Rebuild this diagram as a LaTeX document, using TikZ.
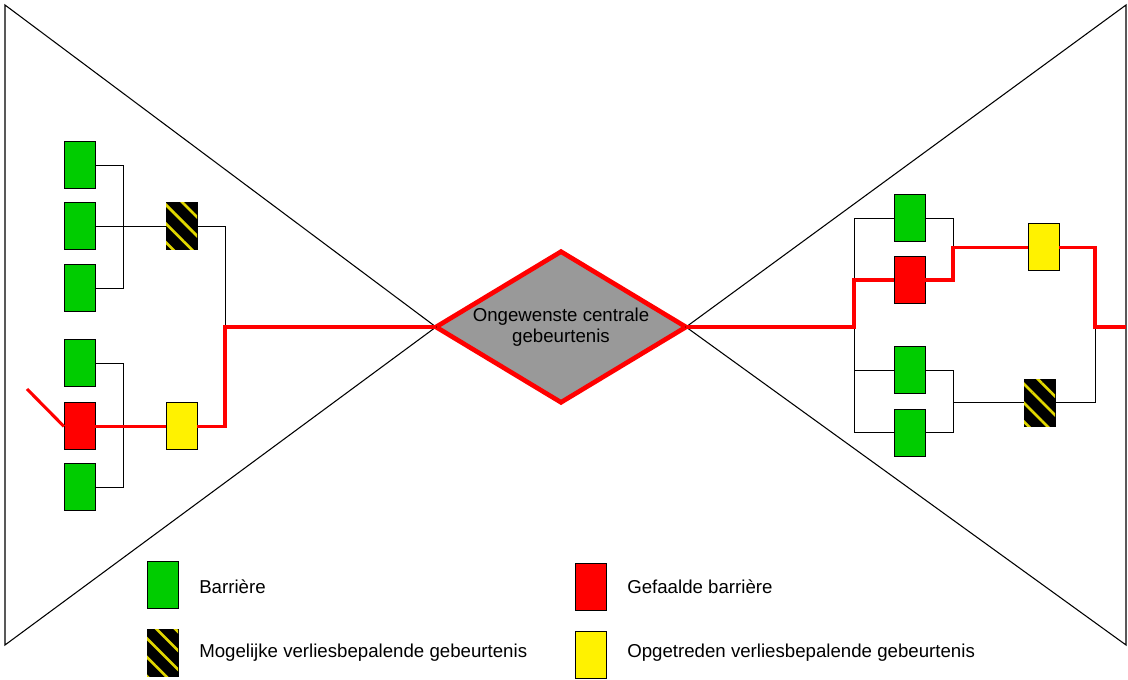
\documentclass[tikz,border=0pt]{standalone}
\usepackage{fontspec}
\setmainfont{Liberation Sans}
\usetikzlibrary{shapes.geometric,patterns.meta}
\definecolor{barrgreen}{RGB}{0,204,0}
\definecolor{stripeyellow}{RGB}{225,215,0}
\definecolor{centergray}{RGB}{153,153,153}

\begin{document}
\begin{tikzpicture}[x=0.75pt, y=-0.75pt,
    box/.style={draw, line width=0.75pt, minimum width=23.25pt, minimum height=35.25pt, inner sep=0pt, outer sep=0pt},
    barrier/.style={box, fill=barrgreen},
    failed/.style={box, fill=red},
    occurred/.style={box, fill=yellow},
    possible/.style={box, fill=black, postaction={pattern={Lines[angle=-45, distance=10pt, line width=2pt]}, pattern color=stripeyellow}},
    link/.style={line width=0.75pt},
    redline/.style={draw=red, line width=2.3pt},
    lbl/.style={font=\fontsize{14}{16}\selectfont, align=center}
  ]
    \useasboundingbox (0,0) rectangle (1128,680);

    % central event
    \node[diamond, shape aspect=1.656, draw=red, line width=3.5pt, fill=centergray, minimum width=187.5pt, minimum height=113pt,
          inner sep=0pt, outer sep=0pt, lbl] (ceg) at (561,327) {Ongewenste centrale\\gebeurtenis};

    % bowtie
    \draw[line width=0.8pt] (5,5) -- (ceg.west) -- (5,645) -- cycle;
    \draw[line width=0.8pt] (1126,5) -- (ceg.east) -- (1126,645) -- cycle;

    % left side
    \node[barrier]  (L1) at (79.5,165.5) {};
    \node[barrier]  (L2) at (79.5,226.5) {};
    \node[barrier]  (L3) at (79.5,288.5) {};
    \node[barrier]  (L4) at (79.5,363.5) {};
    \node[failed]   (L5) at (79.5,426.5) {};
    \node[barrier]  (L6) at (79.5,487.5) {};
    \node[possible] (LH) at (181.5,226.5) {};
    \node[occurred] (LY) at (181.5,426.5) {};

    \coordinate (ja) at (123,165.5);
    \coordinate (jb) at (123,288.5);
    \coordinate (jd) at (123,363.5);
    \coordinate (je) at (123,487.5);
    \coordinate (jc) at (225,327);
    \coordinate (cause) at (27,389);

    \draw[link] (L1.east) -- (ja) -- (jb) -- (L3.east);
    \draw[link] (L2.east) -- (LH.west);
    \draw[link] (LH.east) -| (jc);
    \draw[link] (L4.east) -- (jd) -- (je) -- (L6.east);
    \draw[link] (L5.east) -- (LY.west);
    \draw[redline] (cause) -- (L5.west);
    \draw[redline] (L5.east) -- (LY.west);
    \draw[redline] (LY.east) -| (jc) -- (ceg.west);

    % right side
    \node[barrier]  (R1) at (909.5,218.5) {};
    \node[failed]   (R2) at (909.5,280) {};
    \node[barrier]  (R3) at (909.5,370.5) {};
    \node[barrier]  (R4) at (909.5,433) {};
    \node[occurred] (RY) at (1043.5,247.5) {};
    \node[possible] (RH) at (1039.5,403) {};

    \coordinate (jf) at (854,218.5);
    \coordinate (jg) at (854,433);
    \coordinate (jh) at (854,327);
    \coordinate (jm) at (953,280);
    \coordinate (jn) at (953,433);
    \coordinate (jo) at (1095,327);
    \coordinate (conseq) at (1126,327);

    \draw[link] (R1.west) -- (jf) -- (jg) -- (R4.west);
    \draw[link] (R3.west) -- (R3.west -| jf);
    \draw[link] (R1.east) -| (jm);
    \draw[link] (R3.east) -| (jn) -- (R4.east);
    \draw[link] (RH.west) -- (RH.west -| jn);
    \draw[link] (RH.east) -| (jo);
    \draw[redline] (ceg.east) -- (jh) |- (R2.west);
    \draw[redline] (R2.east) -- (jm) |- (RY.west);
    \draw[redline] (RY.east) -| (jo) -- (conseq);

    % legend
    \node[barrier]  (K1) at (162.5,584.5) {};
    \node[possible] (K2) at (162.5,653) {};
    \node[failed]   (K3) at (590.5,586.5) {};
    \node[occurred] (K4) at (590.5,654.5) {};
    \node[lbl, anchor=west, inner sep=0pt] (T1) at (199,587) {Barrière};
    \node[lbl, anchor=west, inner sep=0pt] (T2) at (199,653) {Mogelijke verliesbepalende gebeurtenis};
    \node[lbl, anchor=west, inner sep=0pt] (T3) at (627,587) {Gefaalde barrière};
    \node[lbl, anchor=west, inner sep=0pt] (T4) at (627,653) {Opgetreden verliesbepalende gebeurtenis};
  \end{tikzpicture}
\end{document}
